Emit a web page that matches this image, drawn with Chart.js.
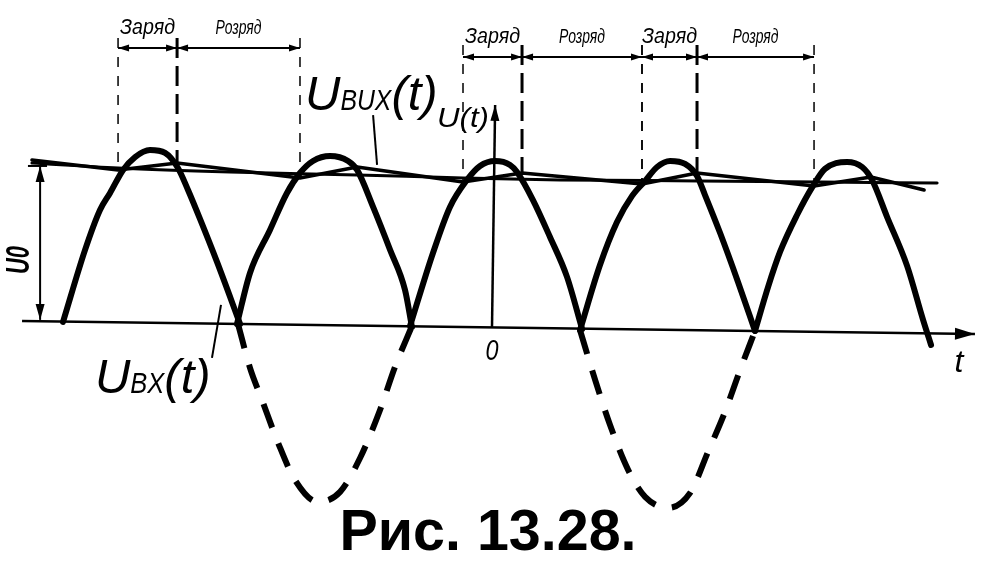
<!DOCTYPE html>
<html>
<head>
<meta charset="utf-8">
<script src="https://cdn.jsdelivr.net/npm/chart.js@4.4.0/dist/chart.umd.min.js"></script>
<style>
  html, body { margin: 0; padding: 0; background: #fff; }
  #wrap { width: 984px; height: 566px; position: relative; }
</style>
</head>
<body>
<div id="wrap"><canvas id="chart"></canvas></div>
<script>
// time t in ms (half period ~10 ms), voltage in V (peak ~10 V)
// solid humps of the rectified input U_BX(t)
const humpT = [
  [-24.77, -23.50, -22.64, -22.06, -21.31, -20.62, -19.76, -18.89, -18.15, -17.57, -16.88, -15.90, -14.57],
  [-14.75, -14.00, -12.85, -11.87, -11.12, -10.37, -9.39, -8.35, -7.83, -6.91, -5.93, -5.07, -4.67],
  [-4.78, -3.46, -2.48, -1.50, -0.75, 0.12, 0.98, 1.38, 2.30, 3.28, 4.26, 5.13],
  [5.01, 6.16, 7.14, 8.01, 8.76, 9.45, 10.20, 11.06, 11.75, 12.21, 13.08, 14.11, 15.09],
  [15.09, 15.84, 16.53, 17.51, 18.43, 19.12, 20.39, 21.26, 21.83, 22.70, 23.85, 24.77, 25.23]
];
const humpV = [
  [0, 4.19, 6.51, 7.50, 8.84, 9.59, 10.00, 9.83, 8.95, 7.67, 5.99, 3.49, -0.12],
  [-0.12, 2.85, 5.35, 7.50, 8.66, 9.36, 9.65, 9.36, 8.84, 6.69, 4.19, 1.86, -0.29],
  [-0.23, 4.01, 6.69, 8.26, 9.07, 9.36, 9.13, 8.72, 7.09, 4.94, 2.62, -0.41],
  [-0.47, 3.31, 5.81, 7.33, 8.20, 9.01, 9.36, 9.19, 8.49, 7.38, 5.17, 2.33, -0.52],
  [-0.52, 2.03, 4.07, 6.22, 7.91, 8.90, 9.30, 9.01, 8.26, 6.10, 3.26, 0.12, -1.34]
];
// dashed negative half-waves
const lobeT = [
  [-14.69, -14.00, -13.31, -12.38, -11.41, -10.08, -8.81, -7.66, -6.51, -5.65, -4.67],
  [5.01, 5.88, 6.74, 7.78, 8.76, 10.08, 11.35, 12.38, 13.36, 14.23, 15.09]
];
const lobeV = [
  [-0.12, -2.67, -4.53, -7.03, -9.19, -10.47, -9.88, -7.91, -5.12, -2.62, -0.23],
  [-0.47, -3.37, -5.99, -8.60, -10.17, -10.81, -9.94, -7.56, -5.23, -2.79, -0.52]
];
// output U_BUX(t): charge / discharge ripple
const rippleT = [-26.56, -21.60, -18.20, -11.12, -7.83, -1.73, 1.67, 8.58, 11.75, 18.49, 21.77, 24.83];
const rippleV = [9.42, 8.84, 9.24, 8.37, 9.01, 8.14, 8.66, 8.02, 8.66, 7.91, 8.43, 7.67];
// mean level U0
const meanT = [-26.56, -21.60, -15.15, -7.83, -1.73, 3.86, 11.92, 18.84, 25.58];
const meanV = [9.24, 8.95, 8.72, 8.55, 8.37, 8.26, 8.20, 8.14, 8.08];
// axes
const xAxisT = [-27.13, 27.76];
const xAxisV = [0.06, -0.70];
const yAxisT = [-0.06, 0.12];
const yAxisV = [-0.29, 12.62];
// charge / discharge intervals
const chargeStart = [-21.60, -1.73, 8.58];
const chargeEnd = [-18.20, 1.67, 11.75];
const dischargeEnd = [-11.12, 8.58, 18.49];
const chargeText = 'Заряд';
const dischargeText = 'Розряд';
const titleText = 'Рис. 13.28.';

const pts = (ts, vs) => ts.map((t, i) => ({ x: t, y: vs[i] }));

function rippleAt(t) {
    for (let i = 1; i < rippleT.length; i++) {
        if (t <= rippleT[i]) {
            const f = (t - rippleT[i - 1]) / (rippleT[i] - rippleT[i - 1]);
            return rippleV[i - 1] + f * (rippleV[i] - rippleV[i - 1]);
        }
    }
    return rippleV[rippleV.length - 1];
}

const sketch = {
    id: 'sketch',
    afterDatasetsDraw(chart) {
        const { ctx, scales: { x, y } } = chart;
        const X = t => x.getPixelForValue(t);
        const Y = v => y.getPixelForValue(v);
        ctx.save();
        ctx.strokeStyle = '#000';
        ctx.fillStyle = '#000';

        function head(x1, y1, x2, y2, len, hw) {
            const a = Math.atan2(y2 - y1, x2 - x1);
            const bx = x2 - len * Math.cos(a), by = y2 - len * Math.sin(a);
            ctx.beginPath();
            ctx.moveTo(x2, y2);
            ctx.lineTo(bx + hw * Math.sin(a), by - hw * Math.cos(a));
            ctx.lineTo(bx - hw * Math.sin(a), by + hw * Math.cos(a));
            ctx.closePath();
            ctx.fill();
        }
        function line(x1, y1, x2, y2, w, dash) {
            ctx.beginPath();
            ctx.lineWidth = w;
            ctx.setLineDash(dash || []);
            ctx.moveTo(x1, y1);
            ctx.lineTo(x2, y2);
            ctx.stroke();
            ctx.setLineDash([]);
        }
        function text(str, px, py, font, align, width) {
            ctx.save();
            ctx.font = font;
            ctx.textAlign = align;
            ctx.textBaseline = 'alphabetic';
            ctx.translate(px, py);
            if (width) ctx.scale(width / ctx.measureText(str).width, 1);
            ctx.fillText(str, 0, 0);
            ctx.restore();
        }

        // axis arrowheads
        head(X(xAxisT[0]), Y(xAxisV[0]), X(xAxisT[1]), Y(xAxisV[1]), 20, 6);
        head(X(yAxisT[0]), Y(yAxisV[0]), X(yAxisT[1]), Y(yAxisV[1]), 16, 4.5);

        // charge / discharge markers
        chargeStart.forEach((cs, i) => {
            const ce = chargeEnd[i], de = dischargeEnd[i];
            const lvl = Y(i === 0 ? 15.93 : 15.41);
            const top = Y(i === 0 ? 16.51 : 16.10);
            line(X(cs), top, X(cs), Y(rippleAt(cs)), 1.5, [10, 9]);
            line(X(ce), top, X(ce), Y(rippleAt(ce)), 3, [20, 8]);
            line(X(de), top, X(de), Y(rippleAt(de)), 1.5, [10, 9]);
            line(X(cs), lvl, X(ce), lvl, 2);
            head(X(ce), lvl, X(cs), lvl, 11, 3.5);
            head(X(cs), lvl, X(ce), lvl, 11, 3.5);
            line(X(ce), lvl, X(de), lvl, 2);
            head(X(de), lvl, X(ce), lvl, 11, 3.5);
            head(X(ce), lvl, X(de), lvl, 11, 3.5);
            text(chargeText, (X(cs) + X(ce)) / 2, lvl - 14, 'italic 22px "Liberation Sans", Arial, sans-serif', 'center', 55);
            text(dischargeText, (X(ce) + X(de)) / 2, lvl - 14, 'italic 20px "Liberation Sans", Arial, sans-serif', 'center', 46);
        });

        // U0 dimension
        const ux = X(-26.09);
        line(X(-26.79), Y(9.07), X(-25.69), Y(9.07), 2);
        line(ux, Y(9.07), ux, Y(0.12), 2);
        head(ux, Y(0.12), ux, Y(9.07), 16, 4.5);
        head(ux, Y(9.07), ux, Y(0.12), 16, 4.5);
        ctx.save();
        ctx.translate(X(-27.36), Y(3.60));
        ctx.rotate(-Math.PI / 2);
        text('U0', 0, 11, 'italic bold 33px "Liberation Sans", Arial, sans-serif', 'center', 28);
        ctx.restore();

        // U_BUX(t) label
        const fBig = 'italic 49px "Liberation Sans", Arial, sans-serif';
        const fSub = 'italic 30px "Liberation Sans", Arial, sans-serif';
        let px = X(-10.83), py = Y(12.33);
        ctx.font = fBig;
        text('U', px, py, fBig, 'left');
        px += ctx.measureText('U').width;
        text('BUX', px, py, fSub, 'left', 51);
        text('(t)', px + 51, py, fBig, 'left');
        text('U(t)', X(-3.23), Y(11.34), 'italic 28px "Liberation Sans", Arial, sans-serif', 'left', 52);
        line(X(-6.91), Y(12.03), X(-6.68), Y(9.13), 2);

        // U_BX(t) label
        px = X(-22.93); py = Y(-4.13);
        ctx.font = fBig;
        text('U', px, py, fBig, 'left');
        px += ctx.measureText('U').width;
        text('BX', px, py, fSub, 'left', 34);
        text('(t)', px + 34, py, fBig, 'left');
        line(X(-16.19), Y(-2.09), X(-15.67), Y(0.99), 2);

        // axis labels
        text('0', X(-0.06), Y(-2.21), 'italic 29px "Liberation Sans", Arial, sans-serif', 'center', 13);
        text('t', X(26.84), Y(-2.91), 'italic 32px "Liberation Sans", Arial, sans-serif', 'center');

        // caption
        text(titleText, X(-0.29), Y(-13.26), 'bold 57px "Liberation Sans", Arial, sans-serif', 'center', 297);
        ctx.restore();
    }
};

const curve = (data, w, extra) => Object.assign({
    data, showLine: true, borderColor: '#000', borderWidth: w,
    pointRadius: 0, fill: false, cubicInterpolationMode: 'monotone',
    borderCapStyle: 'round', borderJoinStyle: 'round'
}, extra || {});

const datasets = [];
humpT.forEach((ts, i) => datasets.push(curve(pts(ts, humpV[i]), 6)));
lobeT.forEach((ts, i) => datasets.push(curve(pts(ts, lobeV[i]), 6, { borderDash: [25, 17], borderCapStyle: 'butt' })));
datasets.push(curve(pts(rippleT, rippleV), 3.5, { cubicInterpolationMode: 'default', tension: 0 }));
datasets.push(curve(pts(meanT, meanV), 3));
datasets.push(curve(pts(xAxisT, xAxisV), 2.5, { cubicInterpolationMode: 'default', tension: 0, borderCapStyle: 'butt' }));
datasets.push(curve(pts(yAxisT, yAxisV), 2.5, { cubicInterpolationMode: 'default', tension: 0, borderCapStyle: 'butt' }));

new Chart(document.getElementById('chart'), {
    type: 'scatter',
    data: { datasets },
    options: {
        responsive: true,
        maintainAspectRatio: false,
        animation: false,
        layout: { padding: 0 },
        plugins: { legend: { display: false }, tooltip: { enabled: false } },
        scales: {
            x: { type: 'linear', min: -28.40, max: 28.28, display: false },
            y: { type: 'linear', min: -14.19, max: 18.72, display: false }
        }
    },
    plugins: [sketch]
});
</script>
</body>
</html>
